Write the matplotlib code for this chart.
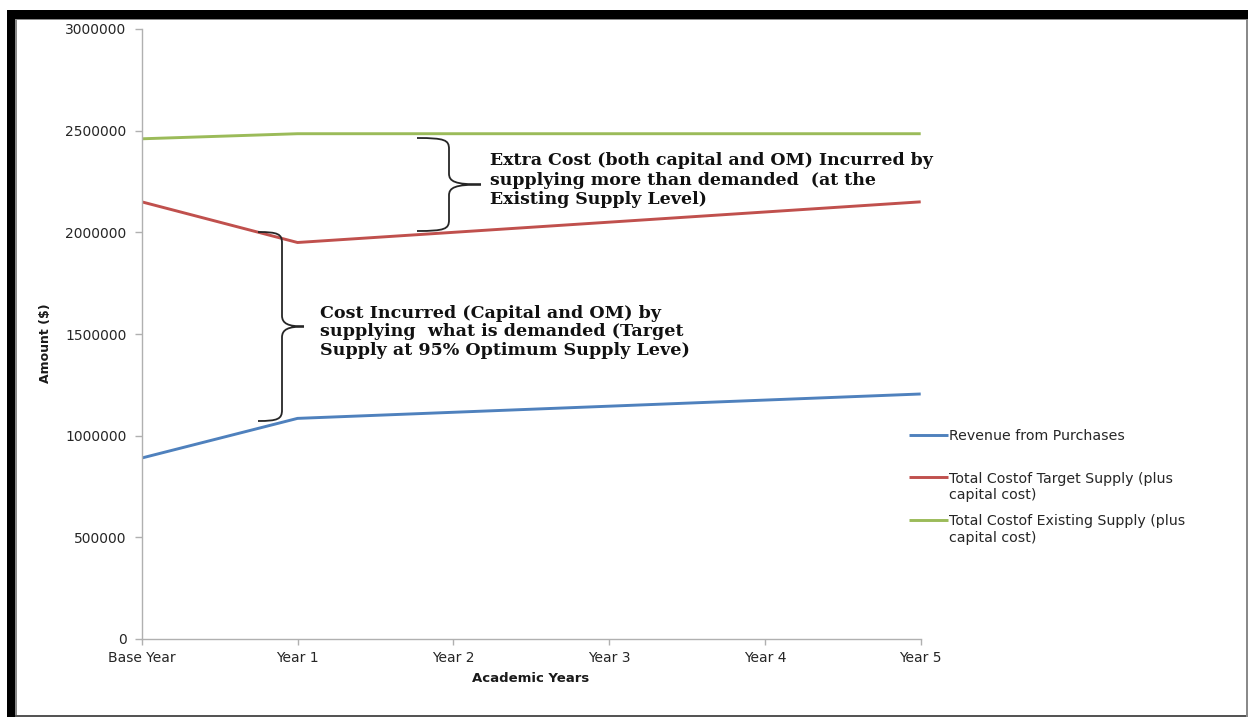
import matplotlib
matplotlib.use("Agg")
import matplotlib.pyplot as plt
from matplotlib.patches import Rectangle, PathPatch
from matplotlib.path import Path
from matplotlib.legend_handler import HandlerLine2D
import numpy as np

# ---- data -------------------------------------------------------------
years = ["Base Year", "Year 1", "Year 2", "Year 3", "Year 4", "Year 5"]
revenue = [890000, 1085000, 1115000, 1145000, 1175000, 1205000]
target_cost = [2150000, 1950000, 2000000, 2050000, 2100000, 2150000]
existing_cost = [2460000, 2485000, 2485000, 2485000, 2485000, 2485000]

series_labels = [
    "Revenue from Purchases",
    "Total Costof Target Supply (plus\ncapital cost)",
    "Total Costof Existing Supply (plus\ncapital cost)",
]
y_ticks = [0, 500000, 1000000, 1500000, 2000000, 2500000, 3000000]

note_extra = ("Extra Cost (both capital and OM) Incurred by\n"
              "supplying more than demanded  (at the\n"
              "Existing Supply Level)")
note_target = ("Cost Incurred (Capital and OM) by\n"
               "supplying  what is demanded (Target\n"
               "Supply at 95% Optimum Supply Leve)")

BLUE, RED, GREEN = "#4F81BD", "#C0504D", "#9BBB59"

W, H = 1248, 717
fig = plt.figure(figsize=(W / 100, H / 100), dpi=100)
fig.patch.set_facecolor("white")


def fx(px):
    return px / W


def fy(py):
    return 1 - py / H


# page frame around the chart
frame = [
    (7, 10, W - 7, 8.5, "black"),
    (7, 10, 8.5, H - 10, "black"),
    (15.5, 18.5, W - 15.5, 1.5, "#8a8a8a"),
    (15.5, 18.5, 1.5, H - 18.5, "#8a8a8a"),
    (15.5, 714.5, W - 15.5, 2, "#555555"),
    (1246, 18.5, 1.5, H - 18.5, "#8a8a8a"),
]
for x, y, w, h, c in frame:
    fig.add_artist(Rectangle((fx(x), fy(y + h)), w / W, h / H,
                             transform=fig.transFigure, color=c, lw=0,
                             zorder=10))

ax = fig.add_axes([fx(141.7), fy(639), fx(920.7) - fx(141.7),
                   fy(29) - fy(639)])
x = np.arange(len(years))
lines = []
for vals, col in zip([revenue, target_cost, existing_cost],
                     [BLUE, RED, GREEN]):
    ln, = ax.plot(x, vals, color=col, lw=2.1, solid_capstyle="butt")
    lines.append(ln)

ax.set_xlim(0, len(years) - 1)
ax.set_ylim(0, 3000000)
ax.set_xticks(x)
ax.set_xticklabels(years)
ax.set_yticks(y_ticks)
ax.set_yticklabels([str(v) for v in y_ticks])

for s in ["top", "right"]:
    ax.spines[s].set_visible(False)
ax.spines["left"].set_color("#b0b0b0")
ax.spines["bottom"].set_color("#b0b0b0")
ax.spines["left"].set_linewidth(1.0)
ax.spines["bottom"].set_linewidth(1.0)
ax.tick_params(axis="y", length=5, width=1, color="#b0b0b0", pad=6,
               labelsize=10, labelcolor="#262626")
ax.tick_params(axis="x", length=4, width=1, color="#b0b0b0", pad=5,
               labelsize=10, labelcolor="#262626")

fig.text(fx(531), fy(679), "Academic Years", ha="center", va="center",
         fontsize=9.5, fontweight="bold", color="#1a1a1a")
fig.text(fx(46), fy(343), "Amount ($)", ha="center", va="center",
         rotation=90, fontsize=9, fontweight="bold", color="#1a1a1a")


class FirstLineHandler(HandlerLine2D):
    """Line handle aligned with the first row of a two-row label."""

    def __init__(self, shift, **kw):
        super().__init__(**kw)
        self.shift = shift

    def create_artists(self, legend, orig_handle, xdescent, ydescent,
                       width, height, fontsize, trans):
        arts = super().create_artists(legend, orig_handle, xdescent,
                                      ydescent, width, height, fontsize,
                                      trans)
        for a in arts:
            a.set_ydata(np.asarray(a.get_ydata(), dtype=float) + self.shift)
        return arts


LEG_FS = 10.2
LEG_LS = 1.2
half_line = 0.5 * LEG_FS * LEG_LS * 1.17
# every legend entry occupies two rows so the entries are evenly spaced
legend_texts = [lab if "\n" in lab else lab + "\n " for lab in series_labels]
hmap = {ln: FirstLineHandler(half_line) for ln in lines}

leg = ax.legend(lines, legend_texts, loc="upper left",
                bbox_to_anchor=(fx(909), fy(429)),
                bbox_transform=fig.transFigure, frameon=False,
                fontsize=LEG_FS, handlelength=2.75, handletextpad=0.1,
                labelspacing=0.88, borderpad=0, borderaxespad=0,
                handler_map=hmap)
for t in leg.get_texts():
    t.set_color("#262626")
    t.set_linespacing(LEG_LS)


def brace(x_end, x_stem, x_tip, y_top, y_bot, r=11):
    """Right-facing curly brace, geometry given in pixel units."""
    ym = (y_top + y_bot) / 2

    def d(px, py):
        return (px, H - py)
    verts = [
        d(x_end, y_top),
        d(x_stem - 4, y_top), d(x_stem, y_top + 2), d(x_stem, y_top + r),
        d(x_stem, ym - r),
        d(x_stem, ym - 3), d(x_stem + 6, ym), d(x_tip, ym),
        d(x_stem + 6, ym), d(x_stem, ym + 3), d(x_stem, ym + r),
        d(x_stem, y_bot - r),
        d(x_stem, y_bot - 2), d(x_stem - 4, y_bot), d(x_end, y_bot),
    ]
    codes = [Path.MOVETO,
             Path.CURVE4, Path.CURVE4, Path.CURVE4,
             Path.LINETO,
             Path.CURVE4, Path.CURVE4, Path.CURVE4,
             Path.CURVE4, Path.CURVE4, Path.CURVE4,
             Path.LINETO,
             Path.CURVE4, Path.CURVE4, Path.CURVE4]
    data = ax.transData.inverted().transform(
        fig.dpi_scale_trans.transform(np.array(verts) / fig.dpi))
    ax.add_patch(PathPatch(Path(data, codes), fill=False, ec="#262626",
                           lw=1.3, clip_on=False, zorder=5))


brace(417, 449, 481, 138, 231)
brace(258, 282, 304, 232, 421)

ax.text(2.236, 2257000, note_extra, ha="left", va="center",
        fontsize=12.5, fontweight="bold", family="DejaVu Serif",
        color="#111111", linespacing=1.18)
ax.text(1.144, 1510000, note_target, ha="left", va="center",
        fontsize=12.6, fontweight="bold", family="DejaVu Serif",
        color="#111111", linespacing=1.12)

fig.savefig("out.png", dpi=100, facecolor="white")
